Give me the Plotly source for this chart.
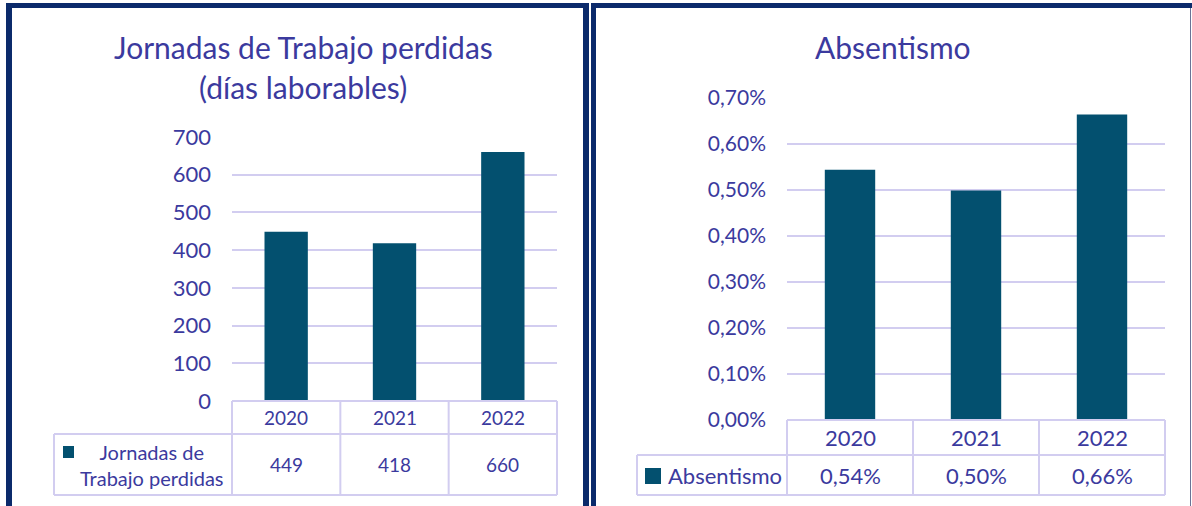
import plotly.graph_objects as go

W, H = 1192, 506

# ---- data ----
years = ["2020", "2021", "2022"]
jornadas = [449, 418, 660]
absentismo = [0.00544, 0.00499, 0.00664]
left_title = ["Jornadas de Trabajo perdidas", "(días laborables)"]
right_title = "Absentismo"
left_series = "Jornadas de<br>Trabajo perdidas"
right_series = "Absentismo"
left_ticks = [0, 100, 200, 300, 400, 500, 600, 700]
right_ticks = [0, 0.001, 0.002, 0.003, 0.004, 0.005, 0.006, 0.007]

# ---- style ----
NAVY = "#0b2a6b"
BAR = "#03506f"
TXT = "#3b3a9e"
GRID = "#d2cdf0"
FONT = "Lato"


def px(x):
    return x / W


def py(y):
    return 1 - y / H


fig = go.Figure()
fig.add_trace(go.Bar(x=years, y=jornadas, marker=dict(color=BAR, line=dict(width=0)),
                     width=0.4, xaxis="x", yaxis="y", showlegend=False, hoverinfo="x+y"))
fig.add_trace(go.Bar(x=years, y=absentismo, marker=dict(color=BAR, line=dict(width=0)),
                     width=0.4, xaxis="x2", yaxis="y2", showlegend=False, hoverinfo="x+y"))

# panel geometry (pixels)
L = dict(x0=232, x1=557, ytop=137, y0=401, hdr=434, bot=495, leg=54)
R = dict(x0=787, x1=1165, ytop=98, y0=420, hdr=455, bot=495, leg=637)
ncat = len(years)

fig.update_layout(
    width=W, height=H, margin=dict(l=0, r=0, t=0, b=0, pad=0), autosize=False,
    paper_bgcolor="white", plot_bgcolor="white",
    separators=",.", bargap=0.6, showlegend=False,
    font=dict(family=FONT, color=TXT),
    xaxis=dict(domain=[px(L["x0"]), px(L["x1"])], type="category", showticklabels=False,
               range=[-0.5, ncat - 0.5], automargin=False,
               showgrid=False, zeroline=False, showline=False, anchor="y"),
    yaxis=dict(domain=[py(L["y0"]), py(L["ytop"])], range=[0, 700], tickvals=left_ticks,
               showgrid=True, gridcolor=GRID, gridwidth=2, zeroline=False, showline=False,
               tickfont=dict(size=22, color=TXT, family=FONT), ticklabelstandoff=20,
               automargin=False, anchor="x"),
    xaxis2=dict(domain=[px(R["x0"]), px(R["x1"])], type="category", showticklabels=False,
                range=[-0.5, ncat - 0.5], automargin=False,
                showgrid=False, zeroline=False, showline=False, anchor="y2"),
    yaxis2=dict(domain=[py(R["y0"]), py(R["ytop"])], range=[0, 0.007], tickvals=right_ticks,
                tickformat=".2%", showgrid=True, gridcolor=GRID, gridwidth=2, zeroline=False,
                showline=False, tickfont=dict(size=21, color=TXT, family=FONT),
                ticklabelstandoff=20, automargin=False, anchor="x2"),
)

shapes = []
ann = []


def pline(x0, y0, x1, y1, color, w):
    shapes.append(dict(type="line", xref="paper", yref="paper", x0=px(x0), y0=py(y0),
                       x1=px(x1), y1=py(y1), line=dict(color=color, width=w)))


# panel borders
pline(9, 3, 9, H + 2, NAVY, 6)
pline(6, 5.5, 589, 5.5, NAVY, 5)
pline(586, 3, 586, H + 2, NAVY, 6)
pline(593.5, 3, 593.5, H + 2, NAVY, 5)
pline(591, 5.5, W + 2, 5.5, NAVY, 5)
pline(1190.5, 8, 1190.5, H + 2, "#6a7396", 1)

# titles
TFS = 30
ann.append(dict(text=left_title[0], x=px(303), y=py(47), xref="paper", yref="paper",
                showarrow=False, font=dict(size=TFS, color=TXT, family=FONT),
                xanchor="center", yanchor="middle"))
ann.append(dict(text=left_title[1], x=px(303), y=py(87), xref="paper", yref="paper",
                showarrow=False, font=dict(size=TFS, color=TXT, family=FONT),
                xanchor="center", yanchor="middle"))
ann.append(dict(text=right_title, x=px(893), y=py(47), xref="paper", yref="paper",
                showarrow=False, font=dict(size=TFS, color=TXT, family=FONT),
                xanchor="center", yanchor="middle"))


def table(P, xa, labels, values, series_text, fs_hdr, fs_val, fs_leg, sq, leg_text_x, leg_anchor):
    ncol = len(labels)
    step = (P["x1"] - P["x0"]) / ncol
    # horizontal lines
    pline(P["x0"], P["y0"], P["x1"], P["y0"], GRID, 2)
    pline(P["leg"], P["hdr"], P["x1"], P["hdr"], GRID, 2)
    pline(P["leg"], P["bot"], P["x1"], P["bot"], GRID, 2)
    # vertical lines
    pline(P["leg"], P["hdr"], P["leg"], P["bot"], GRID, 2)
    for i in range(ncol + 1):
        xx = P["x0"] + i * step
        pline(xx, P["y0"], xx, P["bot"], GRID, 2)
    hy = (P["y0"] + P["hdr"]) / 2
    vy = (P["hdr"] + P["bot"]) / 2
    for i, (lab, val) in enumerate(zip(labels, values)):
        ann.append(dict(text=lab, x=i, y=py(hy), xref=xa, yref="paper", showarrow=False,
                        font=dict(size=fs_hdr, color=TXT, family=FONT),
                        xanchor="center", yanchor="middle"))
        ann.append(dict(text=val, x=i, y=py(vy), xref=xa, yref="paper", showarrow=False,
                        font=dict(size=fs_val, color=TXT, family=FONT),
                        xanchor="center", yanchor="middle"))
    # legend key
    sx0, sy0, sx1, sy1 = sq
    shapes.append(dict(type="rect", xref="paper", yref="paper", x0=px(sx0), x1=px(sx1),
                       y0=py(sy1), y1=py(sy0), fillcolor=BAR, line=dict(width=0)))
    ann.append(dict(text=series_text, x=px(leg_text_x), y=py(vy), xref="paper", yref="paper",
                    showarrow=False, font=dict(size=fs_leg, color=TXT, family=FONT),
                    xanchor=leg_anchor, yanchor="middle", align="center"))


table(L, "x", years, [str(v) for v in jornadas], left_series, 19, 19, 20,
      (63, 446, 74, 458), 151.5, "center")
table(R, "x2", years, [f"{v * 100:.2f}".replace(".", ",") + "%" for v in absentismo],
      right_series, 22, 22, 22, (645, 468, 661, 484), 666, "left")

fig.update_layout(shapes=shapes, annotations=ann)
fig.write_html("out.html", config={"displayModeBar": False},
               post_script="document.body.style.margin='0';document.body.style.overflow='hidden';")
